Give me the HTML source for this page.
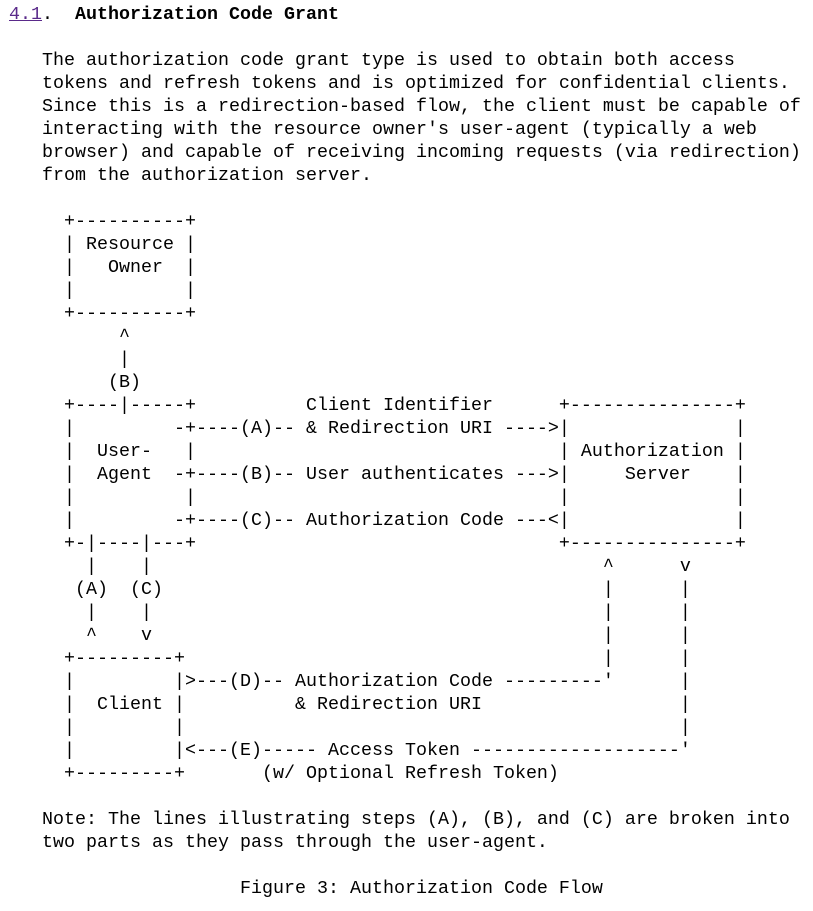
<!DOCTYPE html>
<html>
<head>
<meta charset="utf-8">
<style>
html,body{margin:0;padding:0;background:#fff;width:813px;height:911px;overflow:hidden;}
pre{margin:0;padding:3px 0 0 9px;font-family:"Liberation Mono",monospace;font-size:18.33px;line-height:23px;color:#000;white-space:pre;}
a{color:#5a2a8a;text-decoration:underline;}
b{font-weight:bold;}
</style>
</head>
<body>
<pre><a>4.1</a>.  <b>Authorization Code Grant</b>

   The authorization code grant type is used to obtain both access
   tokens and refresh tokens and is optimized for confidential clients.
   Since this is a redirection-based flow, the client must be capable of
   interacting with the resource owner's user-agent (typically a web
   browser) and capable of receiving incoming requests (via redirection)
   from the authorization server.

     +----------+
     | Resource |
     |   Owner  |
     |          |
     +----------+
          ^
          |
         (B)
     +----|-----+          Client Identifier      +---------------+
     |         -+----(A)-- &amp; Redirection URI ----&gt;|               |
     |  User-   |                                 | Authorization |
     |  Agent  -+----(B)-- User authenticates ---&gt;|     Server    |
     |          |                                 |               |
     |         -+----(C)-- Authorization Code ---&lt;|               |
     +-|----|---+                                 +---------------+
       |    |                                         ^      v
      (A)  (C)                                        |      |
       |    |                                         |      |
       ^    v                                         |      |
     +---------+                                      |      |
     |         |&gt;---(D)-- Authorization Code ---------'      |
     |  Client |          &amp; Redirection URI                  |
     |         |                                             |
     |         |&lt;---(E)----- Access Token -------------------'
     +---------+       (w/ Optional Refresh Token)

   Note: The lines illustrating steps (A), (B), and (C) are broken into
   two parts as they pass through the user-agent.

                     Figure 3: Authorization Code Flow
</pre>
</body>
</html>
